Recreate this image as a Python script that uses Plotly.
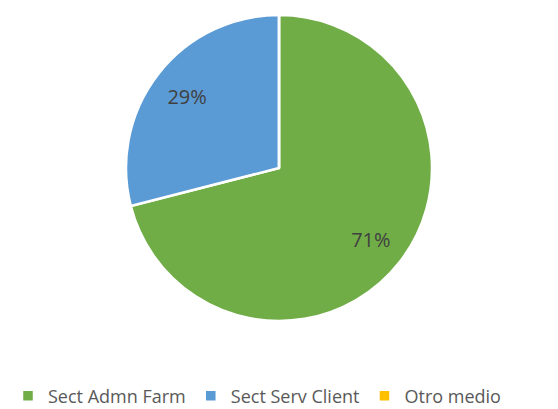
import plotly.graph_objects as go

labels = ["Sect Admn Farm", "Sect Serv Client", "Otro medio"]
values = [71, 29, 0]
colors = ["#70AD47", "#5B9BD5", "#FFC000"]

W, H = 558, 409
# page body adds an 8px offset; domain is expressed in figure pixels
dom = dict(x=[118 / W, 424 / W], y=[(H - 313) / H, (H - 7) / H])
FONT = "Open Sans, Liberation Sans, sans-serif"

fig = go.Figure()
fig.add_trace(go.Pie(
    labels=labels,
    values=values,
    sort=False,
    direction="clockwise",
    rotation=0,
    marker=dict(colors=colors, line=dict(color="white", width=2.5)),
    textinfo="none",
    domain=dom,
    hoverinfo="label+percent",
))
# transparent ring carrying the percentage labels (places them ~3/4 of the radius out)
fig.add_trace(go.Pie(
    labels=labels,
    values=values,
    sort=False,
    direction="clockwise",
    rotation=0,
    hole=0.52,
    marker=dict(colors=["rgba(0,0,0,0)"] * 3, line=dict(width=0)),
    textinfo="percent",
    textposition="inside",
    insidetextorientation="horizontal",
    texttemplate="%{percent:.0%}",
    textfont=dict(family=FONT, size=20, color="#404040"),
    domain=dom,
    showlegend=False,
    hoverinfo="skip",
))

fig.update_layout(
    width=W, height=H,
    margin=dict(l=0, r=0, t=0, b=0, autoexpand=False),
    paper_bgcolor="white",
    plot_bgcolor="white",
    showlegend=True,
    legend=dict(
        orientation="h",
        x=0.0, y=0.006, xanchor="left", yanchor="bottom",
        font=dict(family=FONT, size=18, color="#595959"),
        itemwidth=30,
        traceorder="normal",
    ),
)

fig.write_html("out.html")
